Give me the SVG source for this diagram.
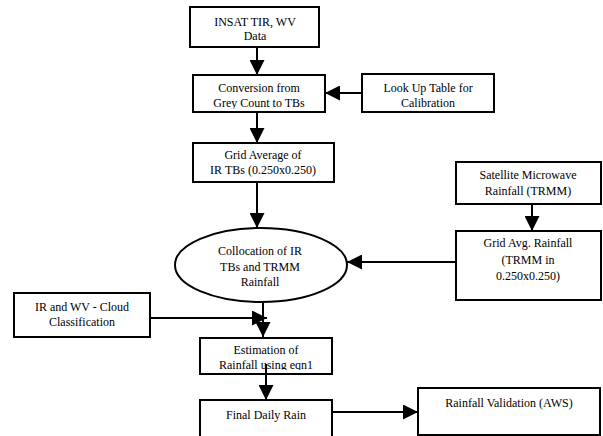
<svg xmlns="http://www.w3.org/2000/svg" width="603" height="436" viewBox="0 0 603 436">
<style>
.box{fill:#fff;stroke:#000;stroke-width:2}
text{font-family:"Times New Roman","Liberation Serif",Times,serif;font-size:12px;fill:#000;text-anchor:middle}
.c{stroke:#000;stroke-width:2;fill:none;marker-end:url(#ah)}
</style>
<defs>
<marker id="ah" markerUnits="userSpaceOnUse" markerWidth="15" markerHeight="15" viewBox="0 0 15 15" refX="15" refY="7.5" orient="auto">
<path d="M0,0 L15,7.5 L0,15 Z" fill="#000"/>
</marker>
<clipPath id="cl2"><rect x="193" y="75" width="132" height="34"/></clipPath>
<clipPath id="cl9"><rect x="200" y="338" width="132" height="32"/></clipPath>
</defs>
<rect width="603" height="436" fill="#fff"/>
<g id="n1"><rect class="box" x="190" y="7" width="129" height="40"/><text x="255" y="26">INSAT TIR, WV</text><text x="255" y="40">Data</text></g>
<g id="n2"><rect class="box" x="193" y="75" width="132" height="37"/><g clip-path="url(#cl2)"><text x="259" y="92">Conversion from</text><text x="259" y="107">Grey Count to TBs</text></g></g>
<g id="n3"><rect class="box" x="362" y="74" width="132" height="38"/><text x="428" y="92">Look Up Table for</text><text x="428" y="107">Calibration</text></g>
<g id="n4"><rect class="box" x="193" y="143" width="141" height="39"/><text x="263" y="159">Grid Average of</text><text x="263" y="174">IR TBs (0.250x0.250)</text></g>
<g id="n5"><ellipse class="box" cx="261" cy="265" rx="86" ry="37"/><text x="260" y="255">Collocation of IR</text><text x="260" y="271">TBs and TRMM</text><text x="260" y="286">Rainfall</text></g>
<g id="n6"><rect class="box" x="456" y="162" width="145" height="42"/><text x="528" y="179">Satellite Microwave</text><text x="528" y="195">Rainfall (TRMM)</text></g>
<g id="n7"><rect class="box" x="456" y="231" width="145" height="69"/><text x="528" y="247">Grid Avg. Rainfall</text><text x="528" y="264">(TRMM in</text><text x="528" y="280">0.250x0.250)</text></g>
<g id="n8"><rect class="box" x="14" y="293" width="136" height="44"/><text x="82" y="311">IR and WV - Cloud</text><text x="82" y="326">Classification</text></g>
<g id="n9"><rect class="box" x="200" y="338" width="132" height="36"/><g clip-path="url(#cl9)"><text x="266" y="354">Estimation of</text><text x="266" y="369">Rainfall using eqn1</text></g></g>
<g id="n10"><rect class="box" x="200" y="400" width="132" height="40"/><text x="266" y="419">Final Daily Rain</text></g>
<g id="n11"><rect class="box" x="418" y="388" width="182" height="47"/><text x="509" y="407">Rainfall Validation (AWS)</text></g>
<g id="connectors">
<line class="c" x1="257" y1="47" x2="257" y2="75"/>
<line class="c" x1="362" y1="93" x2="325" y2="93"/>
<line class="c" x1="257" y1="112" x2="257" y2="143"/>
<line class="c" x1="257" y1="182" x2="257" y2="228"/>
<line class="c" x1="532" y1="204" x2="532" y2="231"/>
<line class="c" x1="456" y1="262" x2="347" y2="262"/>
<line class="c" x1="150" y1="318" x2="267" y2="318"/>
<line class="c" x1="263" y1="302" x2="263" y2="337"/>
<line class="c" x1="266" y1="364" x2="266" y2="400"/>
<line class="c" x1="332" y1="412" x2="418" y2="412"/>
</g>
</svg>
